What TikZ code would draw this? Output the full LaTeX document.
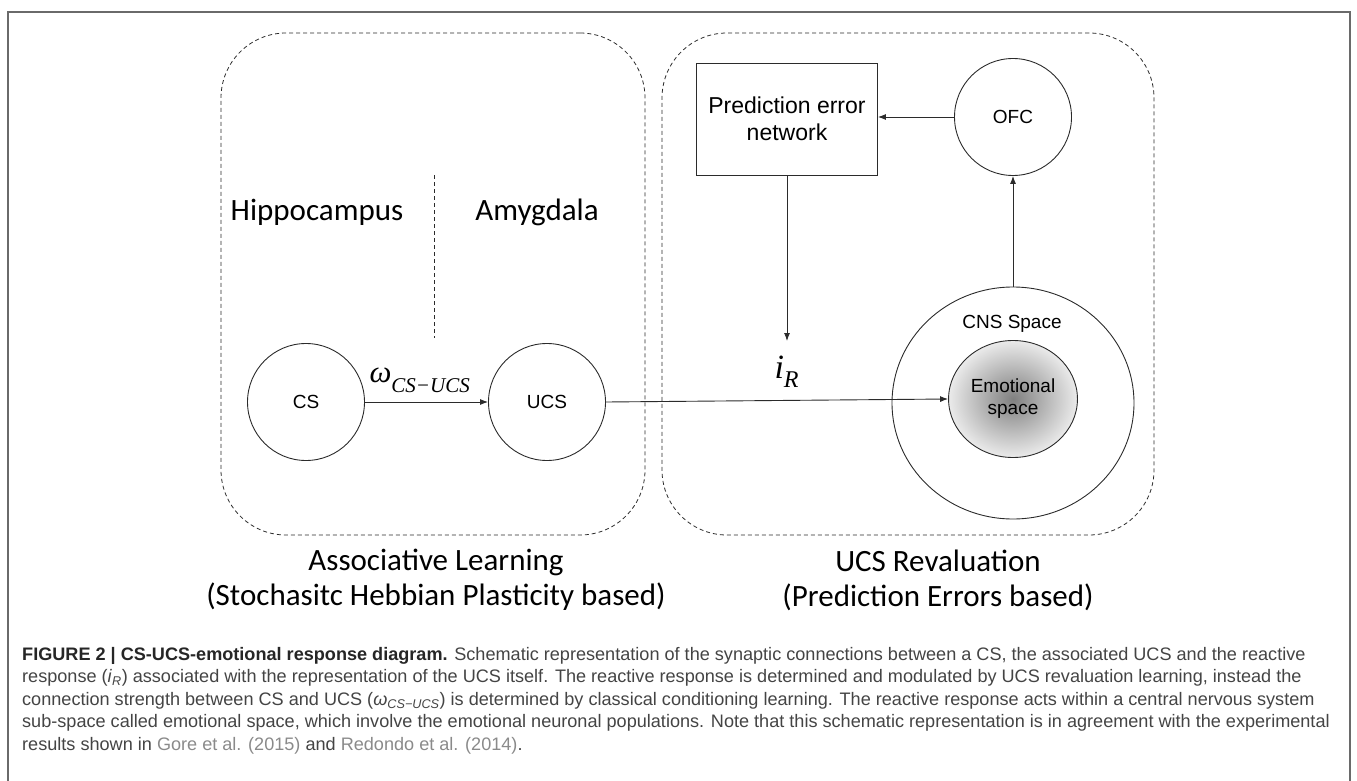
\documentclass[tikz,border=0pt]{standalone}
\usepackage{fontspec}
\setmainfont{Liberation Sans}
\newfontfamily\calibri{Carlito}
\newfontfamily\tnr{Liberation Serif}
\usetikzlibrary{positioning,shapes.geometric,arrows.meta}
\definecolor{ink}{HTML}{2B2B2B}
\definecolor{capgray}{HTML}{444444}
\definecolor{refgray}{HTML}{8A8A8A}
\definecolor{framegray}{HTML}{6A6A6A}

\begin{document}
\begin{tikzpicture}[x=1pt,y=-1pt,node distance=241pt,on grid,
   >={Latex[length=8pt,width=6pt]},
   neuron/.style={circle,draw=ink,line width=0.9pt,minimum size=117pt,inner sep=0pt,font=\fontsize{19}{22}\selectfont},
   region/.style={draw=ink,line width=0.8pt,dash pattern=on 4pt off 3pt,rounded corners=65pt},
   lbl/.style={font=\calibri\fontsize{31}{35}\selectfont,align=center},
   wire/.style={draw=ink,line width=0.9pt}]
   \useasboundingbox (0,0) rectangle (1357,781);
   \draw[framegray,line width=1.5pt] (8,781) -- (8,12) -- (1350,12) -- (1350,781);

   \node[region,minimum width=424pt,minimum height=502pt] (assoc) at (433,284) {};
   \node[region,minimum width=492pt,minimum height=502pt] (reval) at (908,284) {};
   \node[lbl] (assoclbl) at (436,580) {Associative Learning\\(Stochasitc Hebbian Plasticity based)};
   \node[lbl] (revallbl) at (938,580) {UCS Revaluation\\(Prediction Errors based)};

   \node[lbl] (hippo) at (317,212) {Hippocampus};
   \node[lbl] (amyg) at (537,212) {Amygdala};
   \coordinate (divtop) at (434,175);
   \coordinate (divbot) at (434,338);
   \draw[ink,line width=0.8pt,dash pattern=on 4pt off 3pt] (divtop) -- (divbot);

   \node[neuron] (cs) at (306,402) {CS};
   \node[neuron] (ucs) [right=of cs] {UCS};
   \node[anchor=base west] (w) at (366,382) {\tnr\itshape{\fontsize{31}{31}\selectfont ω}\raisebox{-10pt}{\fontsize{21}{21}\selectfont CS−UCS}};

   \node[draw=ink,line width=0.9pt,minimum width=181pt,minimum height=112pt,align=center,font=\fontsize{23}{27}\selectfont] (pen) at (787,119) {Prediction error\\network};
   \node[neuron] (ofc) at (1013,117) {OFC};
   \node[ellipse,draw=ink,line width=0.9pt,minimum width=242pt,minimum height=232pt] (cns) at (1013,403) {};
   \node[font=\fontsize{19}{22}\selectfont] (cnslbl) at (1012,324) {CNS Space};
   \node[ellipse,draw=ink,line width=0.9pt,minimum width=124pt,minimum height=117pt,inner color=black!50,outer color=black!8,align=center,font=\fontsize{19}{22}\selectfont] (emo) at (1013,399) {Emotional\\space};
   \coordinate (irtip) at (787,341);
   \node[anchor=base west] (ir) at (771,378) {\tnr\itshape{\fontsize{34}{34}\selectfont i}\raisebox{-9pt}{\fontsize{24}{24}\selectfont R}};

   \draw[wire,->] (cs) -- (ucs);
   \draw[wire,->] (ucs.east) -- (emo.west);
   \draw[wire,->] (pen.south) -- (irtip);
   \draw[wire,->] (ofc.west) -- (ofc.west -| pen.east);
   \draw[wire,->] (cns.north) -- (ofc.south);

   \node[anchor=north west,align=left,inner sep=0pt,text=capgray,font=\fontsize{18.1}{22.5}\selectfont] (caption) at (22,647) {%
   {\color{black!85}\textbf{FIGURE 2 | CS-UCS-emotional response diagram.}} Schematic representation of the synaptic connections between a CS, the associated UCS and the reactive\\
   response (\textit{i}\textsubscript{\textit{R}}) associated with the representation of the UCS itself. The reactive response is determined and modulated by UCS revaluation learning, instead the\\
   connection strength between CS and UCS (\textit{ω}\textsubscript{\textit{CS−UCS}}) is determined by classical conditioning learning. The reactive response acts within a central nervous system\\
   sub-space called emotional space, which involve the emotional neuronal populations. Note that this schematic representation is in agreement with the experimental\\
   results shown in {\color{refgray}Gore et al. (2015)} and {\color{refgray}Redondo et al. (2014)}.};
\end{tikzpicture}
\end{document}
